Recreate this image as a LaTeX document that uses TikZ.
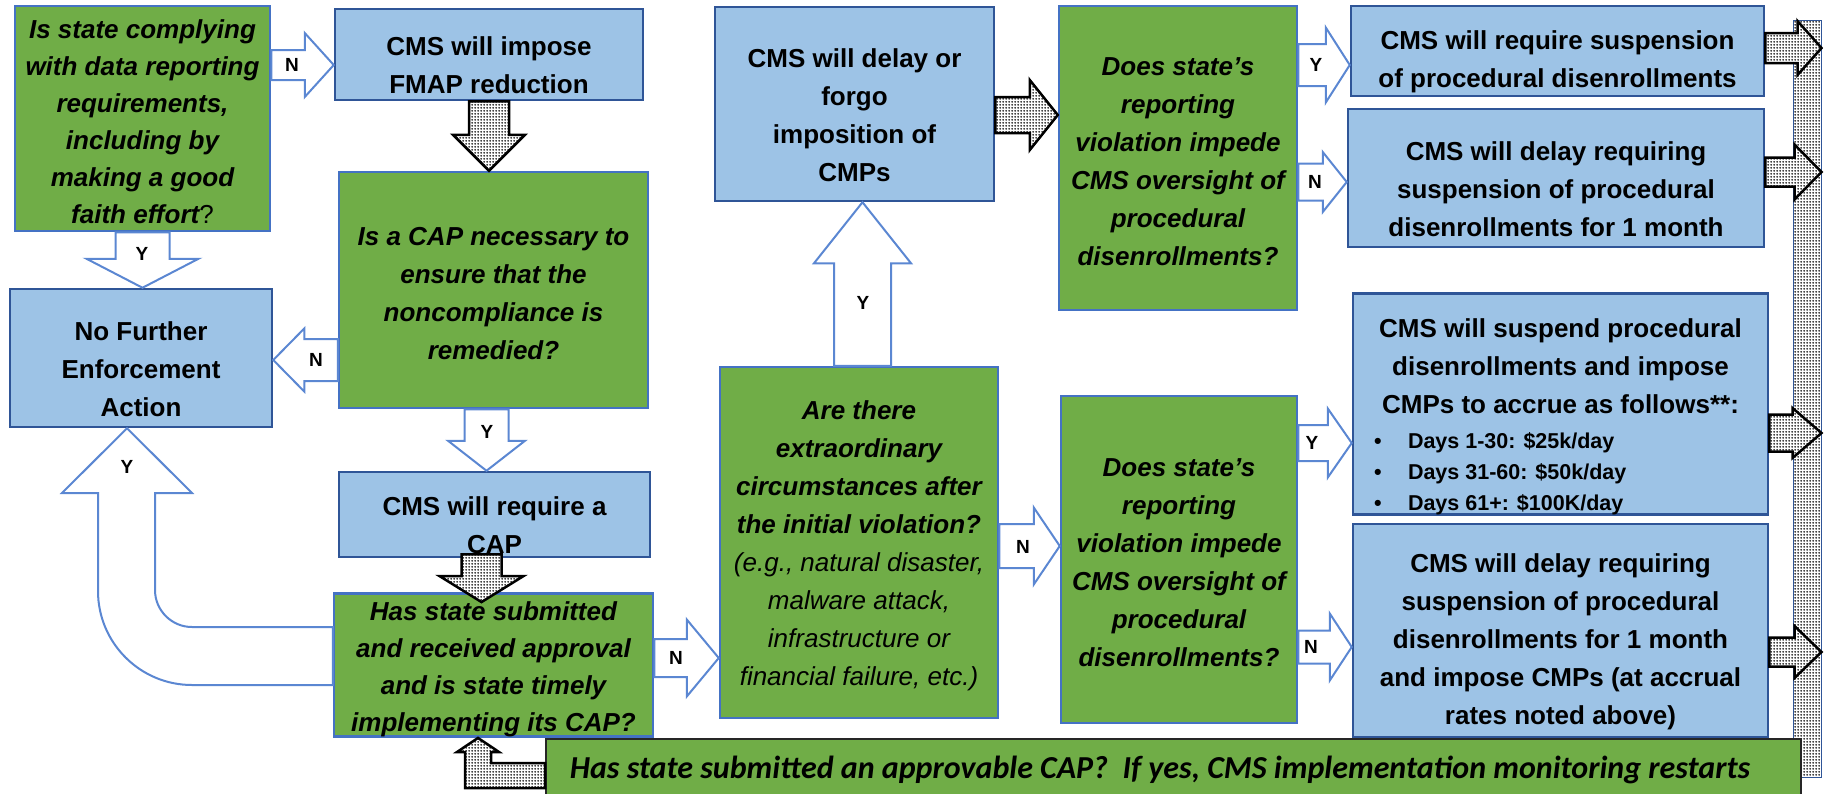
\documentclass[tikz,border=0pt]{standalone}
\usepackage{fontspec}
\setmainfont{Liberation Sans}
\newfontfamily\barfont{Carlito}
\usetikzlibrary{calc,patterns}
\pgfdeclarepatternformonly{fdots}{\pgfpointorigin}{\pgfqpoint{3pt}{3pt}}{\pgfqpoint{3pt}{3pt}}{\pgfpathcircle{\pgfqpoint{1.5pt}{1.5pt}}{1.2pt}\pgfusepath{fill}}
\definecolor{bfill}{HTML}{9DC3E6}
\definecolor{bdraw}{HTML}{2F5597}
\definecolor{gfill}{HTML}{70AD47}
\definecolor{gdraw}{HTML}{4472C4}
\definecolor{adraw}{HTML}{5B87D2}
\newcommand\blst{\rule{0pt}{41pt}}
\newcommand\grst{\rule{0pt}{25pt}}
% horizontal block arrow: style, start, tip, body half height, head half height, head length
\newcommand\arrH[6]{\path[#1] let \p1=(#2), \p2=(#3) in
  (\x1,\y2+#4) -- ({\x2-(#6)},\y2+#4) -- ({\x2-(#6)},\y2+#5) -- (\x2,\y2) --
  ({\x2-(#6)},\y2-#5) -- ({\x2-(#6)},\y2-#4) -- (\x1,\y2-#4) -- cycle;}
% vertical block arrow
\newcommand\arrV[6]{\path[#1] let \p1=(#2), \p2=(#3) in
  (\x2-#4,\y1) -- (\x2-#4,{\y2+(#6)}) -- (\x2-#5,{\y2+(#6)}) -- (\x2,\y2) --
  (\x2+#5,{\y2+(#6)}) -- (\x2+#4,{\y2+(#6)}) -- (\x2+#4,\y1) -- cycle;}
\begin{document}
\begin{tikzpicture}[x=1pt,y=-1pt,
  box/.style={draw, line width=2.5pt, inner sep=0pt, align=center, text=black},
  bluebox/.style={box, fill=bfill, draw=bdraw, font=\fontsize{26}{38}\selectfont\bfseries},
  greenbox/.style={box, fill=gfill, draw=gdraw, font=\fontsize{26}{38}\selectfont\bfseries\itshape},
  outarrow/.style={draw=adraw, fill=white, line width=2pt, line join=miter},
  dotarrow/.style={draw=black, line width=2.5pt, preaction={fill=white}, pattern=fdots, pattern color=black, line join=miter},
  dotbar/.style={draw=bdraw, line width=1pt, preaction={fill=white}, pattern=fdots, pattern color=black, inner sep=0pt},
  greenbar/.style={fill=gfill, draw=black!85, line width=2pt, inner sep=0pt, text=black,
     font=\barfont\fontsize{32}{34}\selectfont\bfseries\itshape},
  lab/.style={inner sep=0pt, text=black, font=\fontsize{19}{19}\selectfont\bfseries}
]
\useasboundingbox (0,0) rectangle (1826,793);
\clip (0,0) rectangle (1826,793);

% boxes
\node[greenbox, minimum width=255, minimum height=225, font=\fontsize{26}{37}\selectfont\bfseries\itshape] (b1) at (142.5,118.5)
  {\grst Is state complying\\with data reporting\\requirements,\\including by\\making a good\\faith effort{\upshape\mdseries ?}};
\node[bluebox, minimum width=308, minimum height=91] (b2) at (489,54.5)
  {\blst CMS will impose\\FMAP reduction};
\node[greenbox, minimum width=309, minimum height=236] (b3) at (493.5,290)
  {\grst Is a CAP necessary to\\ensure that the\\noncompliance is\\remedied?};
\node[bluebox, minimum width=262, minimum height=138] (b4) at (141,358)
  {\blst No Further\\Enforcement\\Action};
\node[bluebox, minimum width=311, minimum height=85] (b5) at (494.5,514.5)
  {\blst CMS will require a\\CAP};
\node[greenbox, minimum width=319, minimum height=134, font=\fontsize{26}{37}\selectfont\bfseries\itshape] (b6) at (493.5,665)
  {\rule{0pt}{27pt}Has state submitted\\and received approval\\and is state timely\\implementing its CAP?};
\node[bluebox, minimum width=279, minimum height=194] (b7) at (854.5,104)
  {\blst CMS will delay or\\forgo\\imposition of\\CMPs};
\node[greenbox, minimum width=278, minimum height=351] (b13) at (859,542.5)
  {\grst Are there\\extraordinary\\circumstances after\\the initial violation?\\{\mdseries (e.g., natural disaster,}\\{\mdseries malware attack,}\\{\mdseries infrastructure or}\\{\mdseries financial failure, etc.)}};
\node[greenbox, minimum width=238, minimum height=304] (b8) at (1178,158)
  {\grst Does state’s\\reporting\\violation impede\\CMS oversight of\\procedural\\disenrollments?};
\node[greenbox, minimum width=236, minimum height=327] (b14) at (1179,559.5)
  {\grst Does state’s\\reporting\\violation impede\\CMS oversight of\\procedural\\disenrollments?};
\node[bluebox, minimum width=413, minimum height=90] (b9) at (1557.5,51)
  {\blst CMS will require suspension\\of procedural disenrollments};
\node[bluebox, minimum width=416, minimum height=138] (b10) at (1556,178)
  {\blst CMS will delay requiring\\suspension of procedural\\disenrollments for 1 month};
\node[bluebox, minimum width=415, minimum height=218] (b11) at (1560.5,404)
  {\rule{0pt}{44pt}CMS will suspend procedural\\disenrollments and impose\\CMPs to accrue as follows**:\\[-3pt]
   \makebox[373pt][l]{\fontsize{21.5}{31}\selectfont\makebox[34pt][l]{\textbullet}Days 1-30: \$25k/day}\\[-7pt]
   \makebox[373pt][l]{\fontsize{21.5}{31}\selectfont\makebox[34pt][l]{\textbullet}Days 31-60: \$50k/day}\\[-7pt]
   \makebox[373pt][l]{\fontsize{21.5}{31}\selectfont\makebox[34pt][l]{\textbullet}Days 61+: \$100K/day}};
\node[bluebox, minimum width=415, minimum height=213] (b12) at (1560.5,630.5)
  {\blst CMS will delay requiring\\suspension of procedural\\disenrollments for 1 month\\and impose CMPs (at accrual\\rates noted above)};

\node[dotbar, minimum width=28, minimum height=757] (vbar) at (1807,398.5) {};
\node[greenbar, minimum width=1255, minimum height=61] (bbar) at (1173.5,769.5)
  {Has state submitted an approvable CAP?\ \ If yes, CMS implementation monitoring restarts\hspace*{27pt}};

% connectors
\arrH{outarrow}{b1.east}{b2.west |- 0,65}{15}{32}{29}
\arrV{dotarrow}{b2.south}{b2.south |- b3.north}{20}{36}{36}
\arrV{outarrow}{b1.south}{b1.south |- b4.north}{27}{56}{29}
\arrH{outarrow}{b3.west}{b4.east |- 0,360}{21}{31.5}{-31}
\arrV{outarrow}{b3.south}{[xshift=-8pt]b5.north}{22}{38.5}{30}
\arrV{dotarrow}{[yshift=4pt]b5.south}{[xshift=-12pt,yshift=-10pt]b6.north}{20}{42}{26}
\path[outarrow] (b6.west |- 0,627) -- (192,627) .. controls (171.6,627) and (155,610.4) .. (155,590)
  -- (155,493) -- (192,493) -- (b4.south -| 127,0) -- (62,493) -- (98,493) -- (98,591)
  .. controls (98,642.9) and (140.1,685) .. (192,685) -- (b6.west |- 0,685) -- cycle;
\arrH{outarrow}{b6.east}{b13.west |- 0,658}{19}{38.5}{32}
\arrV{outarrow}{b13.north}{[xshift=8pt]b7.south}{28.5}{48.5}{-61}
\arrH{dotarrow}{b7.east}{b8.west |- 0,115}{18}{35}{28}
\arrH{outarrow}{b8.east}{b9.west |- 0,65}{21}{37.5}{24}
\arrH{outarrow}{b8.east}{b10.west |- 0,182}{18.5}{30}{24}
\arrH{outarrow}{b13.east}{b14.west |- 0,546}{22}{38.5}{26}
\arrH{outarrow}{b14.east}{b11.west |- 0,443}{18}{34.5}{24}
\arrH{outarrow}{b14.east}{b12.west |- 0,647}{16.5}{33.5}{22}
\arrH{dotarrow}{b9.east}{vbar.east |- 0,48}{15}{27}{24}
\arrH{dotarrow}{b10.east}{vbar.east |- 0,172}{14.5}{27.5}{27}
\arrH{dotarrow}{b11.east}{vbar.east |- 0,433}{18.5}{25}{29}
\arrH{dotarrow}{b12.east}{vbar.east |- 0,652}{14.5}{26}{27}
\path[dotarrow] (bbar.west |- 0,763) -- (491,763) -- (491,752) -- (499,752) -- (b6.south -| 478,0)
  -- (457,752) -- (465,752) -- (465,788) -- (bbar.west |- 0,788) -- cycle;

% labels
\node[lab] (lN1) at (292,65) {N};
\node[lab] (lY1) at (142,254) {Y};
\node[lab] (lN2) at (316,360) {N};
\node[lab] (lY2) at (487,432) {Y};
\node[lab] (lY3) at (127,467) {Y};
\node[lab] (lN3) at (676,658) {N};
\node[lab] (lY4) at (863,303) {Y};
\node[lab] (lY5) at (1316,65) {Y};
\node[lab] (lN4) at (1315,182) {N};
\node[lab] (lN5) at (1023,547) {N};
\node[lab] (lY6) at (1312,443) {Y};
\node[lab] (lN6) at (1311,647) {N};
\end{tikzpicture}
\end{document}
